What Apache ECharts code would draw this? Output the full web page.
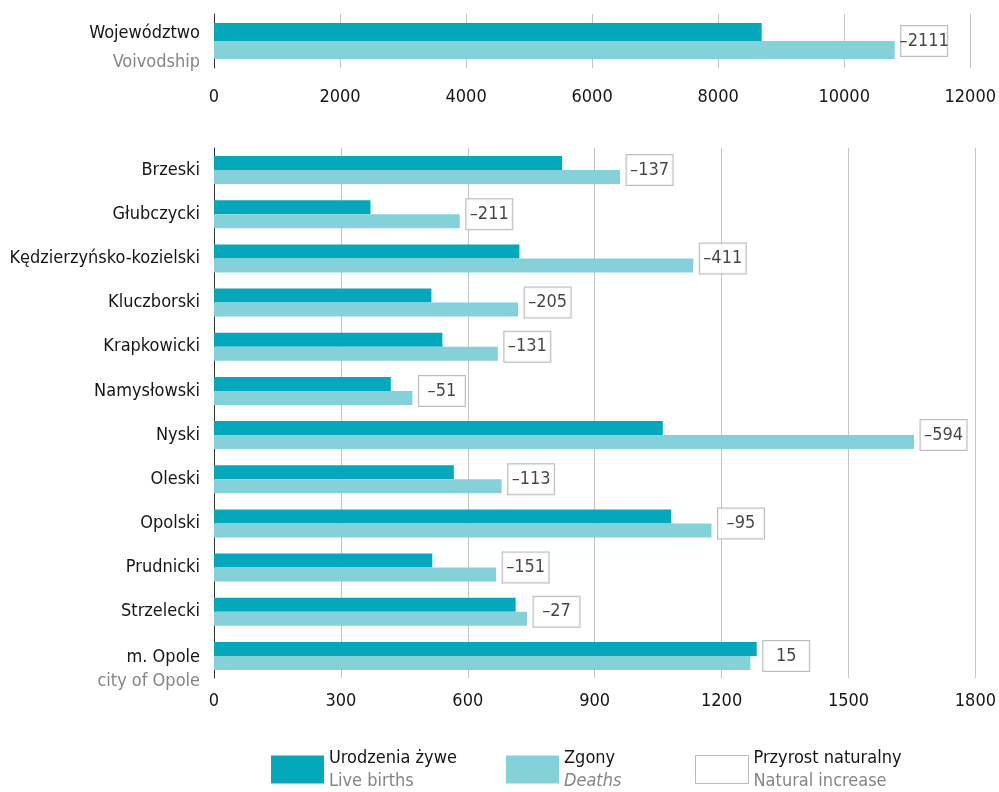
<!DOCTYPE html>
<html>
<head>
<meta charset="utf-8">
<script src="https://cdn.jsdelivr.net/npm/echarts@6/dist/echarts.min.js"></script>
<style>
html,body{margin:0;padding:0;background:#fff;}
#c{width:999px;height:792px;}
</style>
</head>
<body>
<div id="c"></div>
<script>
// ---- data ----
var topCategories = ['Województwo'];
var topBirths = [8690];
var topDeaths = [10801];
var topIncrease = [-2111];

var categories = ['Brzeski','Głubczycki','Kędzierzyńsko-kozielski','Kluczborski','Krapkowicki','Namysłowski','Nyski','Oleski','Opolski','Prudnicki','Strzelecki','m. Opole'];
var births = [823, 370, 722, 514, 540, 418, 1061, 567, 1081, 516, 713, 1283];
var deaths = [960, 581, 1133, 719, 671, 469, 1655, 680, 1176, 667, 740, 1268];
var increase = [-137, -211, -411, -205, -131, -51, -594, -113, -95, -151, -27, 15];

var subLabels = {'Województwo':'Voivodship','m. Opole':'city of Opole'};
var seriesNames = ['Urodzenia żywe','Zgony','Przyrost naturalny'];
var seriesSub = {'Urodzenia żywe':'Live births','Zgony':'Deaths','Przyrost naturalny':'Natural increase'};

var FONT = "'DejaVu Sans Condensed','Liberation Sans Narrow','Roboto',sans-serif";
var C_BIRTH = '#03a9ba';
var C_DEATH = '#84d1da';
var C_TEXT = '#161616';
var C_SUB = '#858585';
var FS = 18;

function fmtInc(v){ return v < 0 ? '\u2013' + Math.abs(v) : String(v); }

function scatterData(b, d){
  return b.map(function(v,i){ return [Math.max(v, d[i]), i]; });
}

var chart = echarts.init(document.getElementById('c'), null, {renderer:'canvas'});

var incLabel = function(arr){
  return {
    show: true,
    position: 'right',
    distance: 6,
    formatter: function(p){ return '{v|' + fmtInc(arr[p.dataIndex]) + '}'; },
    rich: {
      v: {color: C_TEXT, fontFamily: FONT, fontSize: FS, lineHeight: 18, width: 30, align: 'center'}
    },
    backgroundColor: '#fff',
    borderColor: '#aaaaaa',
    borderWidth: 1,
    padding: [6, 8]
  };
};

function legendItem(left, ritem){
  return {
    left: left, top: 749, padding: 0,
    itemWidth: 53, itemHeight: 28,
    selectedMode: false,
    data: [ritem],
    formatter: function(name){
      var sub = seriesSub[name];
      return '{a|' + name + '}\n' + (name === 'Zgony' ? '{i|' + sub + '}' : '{b|' + sub + '}');
    },
    textStyle: {
      fontFamily: FONT,
      rich: {
        a: {color: C_TEXT, fontSize: FS, lineHeight: 23, fontFamily: FONT},
        b: {color: C_SUB, fontSize: FS, lineHeight: 23, fontFamily: FONT},
        i: {color: C_SUB, fontSize: FS, lineHeight: 23, fontFamily: FONT, fontStyle: 'italic'}
      }
    }
  };
}

var option = {
  animation: false,
  textStyle: {fontFamily: FONT},
  grid: [
    {left: 214, right: 22, top: 14, height: 54},
    {left: 214, right: 22, top: 148, height: 530}
  ],
  xAxis: [
    {gridIndex: 0, type: 'value', min: 0, max: 12000, interval: 2000,
     axisLine: {show: false}, axisTick: {show: false},
     splitLine: {lineStyle: {color: '#c4c4c4', width: 1}},
     axisLabel: {color: C_TEXT, fontSize: FS, fontFamily: FONT, margin: 20,
       formatter: function(v){ return String(v); }}},
    {gridIndex: 1, type: 'value', min: 0, max: 1800, interval: 300,
     axisLine: {show: false}, axisTick: {show: false},
     splitLine: {lineStyle: {color: '#c4c4c4', width: 1}},
     axisLabel: {color: C_TEXT, fontSize: FS, fontFamily: FONT, margin: 14,
       formatter: function(v){ return String(v); }}}
  ],
  yAxis: [
    {gridIndex: 0, type: 'category', data: topCategories, inverse: true,
     axisLine: {show: true, lineStyle: {color: '#333', width: 1}}, axisTick: {show: false},
     axisLabel: {margin: 14, fontFamily: FONT,
       formatter: function(v){ return '{pad| }\n{a|' + v + '}\n{b|' + subLabels[v] + '}'; },
       rich: {
         pad: {lineHeight: 13, fontSize: 10},
         a: {color: C_TEXT, fontSize: FS, lineHeight: 29, fontFamily: FONT, align: 'right'},
         b: {color: C_SUB, fontSize: FS, lineHeight: 29, fontFamily: FONT, align: 'right'}
       }}},
    {gridIndex: 1, type: 'category', data: categories, inverse: true,
     axisLine: {show: true, lineStyle: {color: '#333', width: 1}}, axisTick: {show: false},
     axisLabel: {margin: 14, fontFamily: FONT,
       formatter: function(v){
         if (subLabels[v]) return '{pad| }\n{a|' + v + '}\n{b|' + subLabels[v] + '}';
         return '{a|' + v + '}';
       },
       rich: {
         pad: {lineHeight: 26, fontSize: 10},
         a: {color: C_TEXT, fontSize: FS, lineHeight: 24, fontFamily: FONT, align: 'right'},
         b: {color: C_SUB, fontSize: FS, lineHeight: 24, fontFamily: FONT, align: 'right'}
       }}}
  ],
  legend: [
    legendItem(271, {name: seriesNames[0], icon: 'rect', itemStyle: {color: C_BIRTH}}),
    legendItem(506, {name: seriesNames[1], icon: 'rect', itemStyle: {color: C_DEATH}}),
    legendItem(695, {name: seriesNames[2], icon: 'rect', itemStyle: {color: '#ffffff', borderColor: '#aaaaaa', borderWidth: 1}})
  ],
  series: [
    {name: seriesNames[0], type: 'bar', xAxisIndex: 0, yAxisIndex: 0, data: topBirths,
     barWidth: 18, barGap: '0%', itemStyle: {color: C_BIRTH}},
    {name: seriesNames[1], type: 'bar', xAxisIndex: 0, yAxisIndex: 0, data: topDeaths,
     barWidth: 18, barGap: '0%', itemStyle: {color: C_DEATH}},
    {name: seriesNames[0], type: 'bar', xAxisIndex: 1, yAxisIndex: 1, data: births,
     barWidth: 14, barGap: '0%', itemStyle: {color: C_BIRTH}},
    {name: seriesNames[1], type: 'bar', xAxisIndex: 1, yAxisIndex: 1, data: deaths,
     barWidth: 14, barGap: '0%', itemStyle: {color: C_DEATH}},
    {name: seriesNames[2], type: 'scatter', xAxisIndex: 0, yAxisIndex: 0,
     data: scatterData(topBirths, topDeaths), symbolSize: 1,
     itemStyle: {color: 'rgba(0,0,0,0)'}, label: incLabel(topIncrease), z: 5},
    {name: seriesNames[2], type: 'scatter', xAxisIndex: 1, yAxisIndex: 1,
     data: scatterData(births, deaths), symbolSize: 1,
     itemStyle: {color: 'rgba(0,0,0,0)'}, label: incLabel(increase), z: 5}
  ]
};
chart.setOption(option);
</script>
</body>
</html>
